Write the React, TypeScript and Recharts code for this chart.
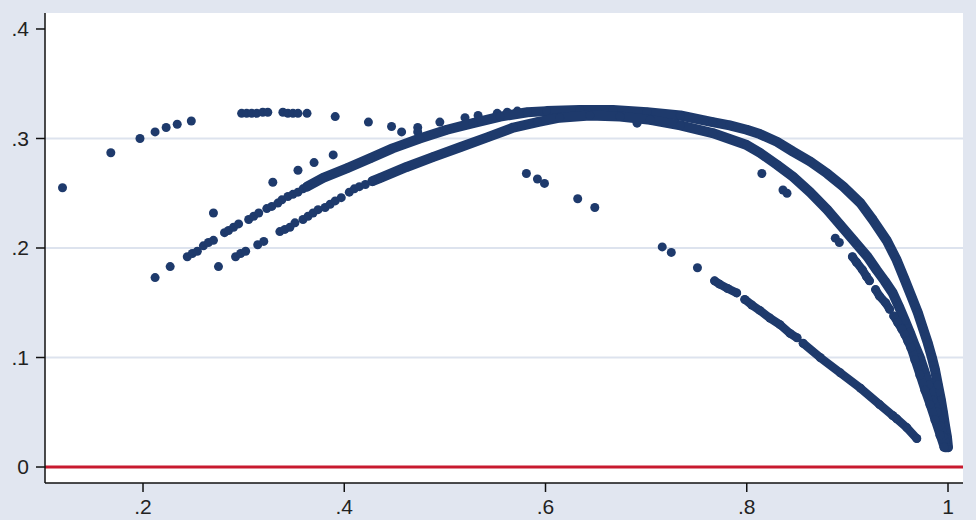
import React from 'react';
import {
  ScatterChart, Scatter, XAxis, YAxis, CartesianGrid, ReferenceLine,
} from 'recharts';

// ---- tick values / labels ----
const xTicks = [0.2, 0.4, 0.6, 0.8, 1];
const xTickLabels = ['.2', '.4', '.6', '.8', '1'];
const yTicks = [0, 0.1, 0.2, 0.3, 0.4];
const yTickLabels = ['0', '.1', '.2', '.3', '.4'];
const gridValues = [0.1, 0.2, 0.3];

// ---- isolated points (upper-left cluster, top row, singles) ----
const isolatedPts: [number, number][] = [
  [0.120, 0.255], [0.168, 0.287], [0.197, 0.300], [0.212, 0.306], [0.223, 0.310],
  [0.234, 0.313], [0.248, 0.316],
  [0.298, 0.323], [0.303, 0.323], [0.308, 0.323], [0.313, 0.323], [0.319, 0.324],
  [0.324, 0.324], [0.339, 0.324], [0.344, 0.323], [0.349, 0.323], [0.354, 0.323],
  [0.363, 0.323], [0.391, 0.320], [0.424, 0.315], [0.447, 0.311], [0.457, 0.306],
  [0.473, 0.310], [0.473, 0.306], [0.495, 0.315], [0.520, 0.319], [0.533, 0.321],
  [0.552, 0.323], [0.562, 0.324], [0.572, 0.325],
  [0.270, 0.232], [0.329, 0.260], [0.354, 0.271], [0.370, 0.278], [0.389, 0.285],
  [0.691, 0.314],
  [0.581, 0.268], [0.592, 0.263], [0.599, 0.259], [0.632, 0.245], [0.649, 0.237],
  [0.716, 0.201], [0.725, 0.196], [0.751, 0.182],
  [0.815, 0.268], [0.836, 0.253], [0.840, 0.250], [0.888, 0.209], [0.892, 0.205],
];

// ---- dashed left part of the upper arc ----
const upperArcDashed: [number, number][] = [
  [0.212, 0.173], [0.227, 0.183], [0.244, 0.192], [0.249, 0.195], [0.254, 0.197],
  [0.260, 0.202], [0.265, 0.205], [0.270, 0.207], [0.281, 0.214], [0.285, 0.216],
  [0.290, 0.219], [0.295, 0.222], [0.305, 0.226], [0.310, 0.229], [0.315, 0.232],
  [0.323, 0.236], [0.328, 0.238], [0.334, 0.241], [0.338, 0.244], [0.344, 0.247],
  [0.349, 0.249], [0.354, 0.251], [0.359, 0.254],
];

// ---- dashed left part of the lower arc ----
const lowerArcDashed: [number, number][] = [
  [0.275, 0.183], [0.292, 0.192], [0.297, 0.195], [0.302, 0.197], [0.314, 0.203],
  [0.320, 0.206], [0.336, 0.215], [0.341, 0.217], [0.346, 0.219], [0.351, 0.223],
  [0.359, 0.226], [0.364, 0.229], [0.369, 0.232], [0.374, 0.235], [0.381, 0.237],
  [0.386, 0.240], [0.391, 0.243], [0.397, 0.246], [0.405, 0.251], [0.410, 0.254],
  [0.415, 0.256], [0.421, 0.258],
];

// ---- continuous outer arc ----
const outerArc: [number, number][] = [
  [0.363, 0.256], [0.379, 0.264], [0.403, 0.273], [0.426, 0.282], [0.448, 0.291],
  [0.475, 0.300], [0.502, 0.308], [0.528, 0.314], [0.555, 0.320], [0.582, 0.324],
  [0.601, 0.325], [0.634, 0.326], [0.667, 0.326], [0.701, 0.324], [0.734, 0.321],
  [0.766, 0.315], [0.783, 0.312], [0.800, 0.308], [0.813, 0.304], [0.830, 0.297],
  [0.846, 0.288], [0.863, 0.279], [0.880, 0.268], [0.896, 0.256], [0.913, 0.241],
  [0.925, 0.226], [0.939, 0.207], [0.949, 0.189], [0.957, 0.171], [0.964, 0.155],
  [0.970, 0.141], [0.975, 0.127], [0.980, 0.113], [0.984, 0.100], [0.987, 0.089],
  [0.990, 0.075], [0.993, 0.061], [0.995, 0.050], [0.997, 0.038], [0.999, 0.027],
  [1.000, 0.018],
];

// ---- continuous middle arc ----
const middleArc: [number, number][] = [
  [0.428, 0.261], [0.436, 0.264], [0.462, 0.274], [0.488, 0.283], [0.515, 0.292],
  [0.542, 0.301], [0.568, 0.310], [0.592, 0.315], [0.614, 0.319], [0.644, 0.321],
  [0.674, 0.320], [0.704, 0.317], [0.734, 0.312], [0.766, 0.305], [0.800, 0.294],
  [0.813, 0.287], [0.830, 0.276], [0.846, 0.265], [0.863, 0.251], [0.880, 0.235],
  [0.893, 0.221], [0.906, 0.207], [0.920, 0.192], [0.929, 0.180], [0.937, 0.170],
  [0.945, 0.159], [0.951, 0.147], [0.957, 0.134], [0.962, 0.123], [0.967, 0.111],
  [0.972, 0.100], [0.976, 0.089], [0.981, 0.075], [0.985, 0.061], [0.989, 0.050],
  [0.992, 0.038], [0.995, 0.028], [0.998, 0.018],
];

// ---- inner right arc (segmented) ----
const innerArc1: [number, number][] = [
  [0.905, 0.192], [0.909, 0.187], [0.915, 0.180], [0.919, 0.174], [0.922, 0.170],
];
const innerArc2: [number, number][] = [
  [0.928, 0.162], [0.932, 0.156], [0.938, 0.150], [0.942, 0.144],
];
const innerArc3: [number, number][] = [
  [0.946, 0.138], [0.950, 0.132], [0.954, 0.126], [0.957, 0.121], [0.960, 0.115],
  [0.963, 0.109], [0.967, 0.098], [0.972, 0.084], [0.977, 0.070], [0.982, 0.057],
  [0.987, 0.043], [0.992, 0.029], [0.996, 0.018],
];

// ---- descending straight band ----
const descSeg1: [number, number][] = [
  [0.768, 0.170], [0.773, 0.167], [0.781, 0.163], [0.790, 0.159],
];
const descSeg2: [number, number][] = [
  [0.798, 0.153], [0.805, 0.148], [0.813, 0.143], [0.823, 0.136], [0.833, 0.130],
  [0.843, 0.122], [0.850, 0.118],
];
const descSeg3: [number, number][] = [
  [0.856, 0.113], [0.873, 0.100], [0.893, 0.086], [0.913, 0.072], [0.932, 0.057],
  [0.945, 0.047], [0.949, 0.044], [0.959, 0.036], [0.969, 0.026],
];

const toObj = (a: [number, number][]) => a.map(([x, y]) => ({ x, y }));

const NAVY = '#1e3a6c';
const Dot = (p: any) => <circle cx={p.cx} cy={p.cy} r={4.5} fill={NAVY} />;
const bandLine = { stroke: NAVY, strokeWidth: 10, strokeLinejoin: 'round', strokeLinecap: 'round' } as any;
const thinLine = { stroke: NAVY, strokeWidth: 8.5, strokeLinejoin: 'round', strokeLinecap: 'round' } as any;

const fontStyle = { fontFamily: '"Liberation Sans", Arial, sans-serif', fontSize: 21, fill: '#222' };

export default function App() {
  const pointSets = [isolatedPts, upperArcDashed, lowerArcDashed];
  const lineSets = [outerArc, middleArc];
  const thinSets = [innerArc1, innerArc2, innerArc3, descSeg1, descSeg2, descSeg3];
  return (
    <div style={{ position: 'absolute', left: 0, top: 0, width: 976, height: 520, background: '#e1e6f0' }}>
      <ScatterChart width={976} height={520} margin={{ top: 13, right: 13, bottom: 0, left: 0 }}>
        <CartesianGrid
          vertical={false}
          horizontalValues={gridValues}
          stroke="#dde3ee"
          strokeWidth={2}
          fill="#ffffff"
          fillOpacity={1}
        />
        <XAxis
          type="number"
          dataKey="x"
          domain={[0.1026, 1.0149]}
          allowDataOverflow
          ticks={xTicks}
          tickFormatter={(v: number) => xTickLabels[xTicks.indexOf(v)] ?? ''}
          height={37}
          tickSize={9}
          tickMargin={7}
          axisLine={{ stroke: '#111', strokeWidth: 1.5 }}
          tickLine={{ stroke: '#111', strokeWidth: 1.5 }}
          tick={fontStyle}
        />
        <YAxis
          type="number"
          dataKey="y"
          domain={[-0.0146, 0.4146]}
          allowDataOverflow
          ticks={yTicks}
          tickFormatter={(v: number) => yTickLabels[yTicks.indexOf(v)] ?? ''}
          width={45}
          tickSize={9}
          tickMargin={7}
          axisLine={{ stroke: '#111', strokeWidth: 1.5 }}
          tickLine={{ stroke: '#111', strokeWidth: 1.5 }}
          tick={fontStyle}
        />
        <ReferenceLine y={0} stroke="#c8192e" strokeWidth={3} />
        {pointSets.map((s, i) => (
          <Scatter key={'p' + i} data={toObj(s)} shape={Dot} isAnimationActive={false} />
        ))}
        {lineSets.map((s, i) => (
          <Scatter key={'l' + i} data={toObj(s)} shape={Dot} line={bandLine} isAnimationActive={false} />
        ))}
        {thinSets.map((s, i) => (
          <Scatter key={'t' + i} data={toObj(s)} shape={Dot} line={thinLine} isAnimationActive={false} />
        ))}
      </ScatterChart>
    </div>
  );
}
